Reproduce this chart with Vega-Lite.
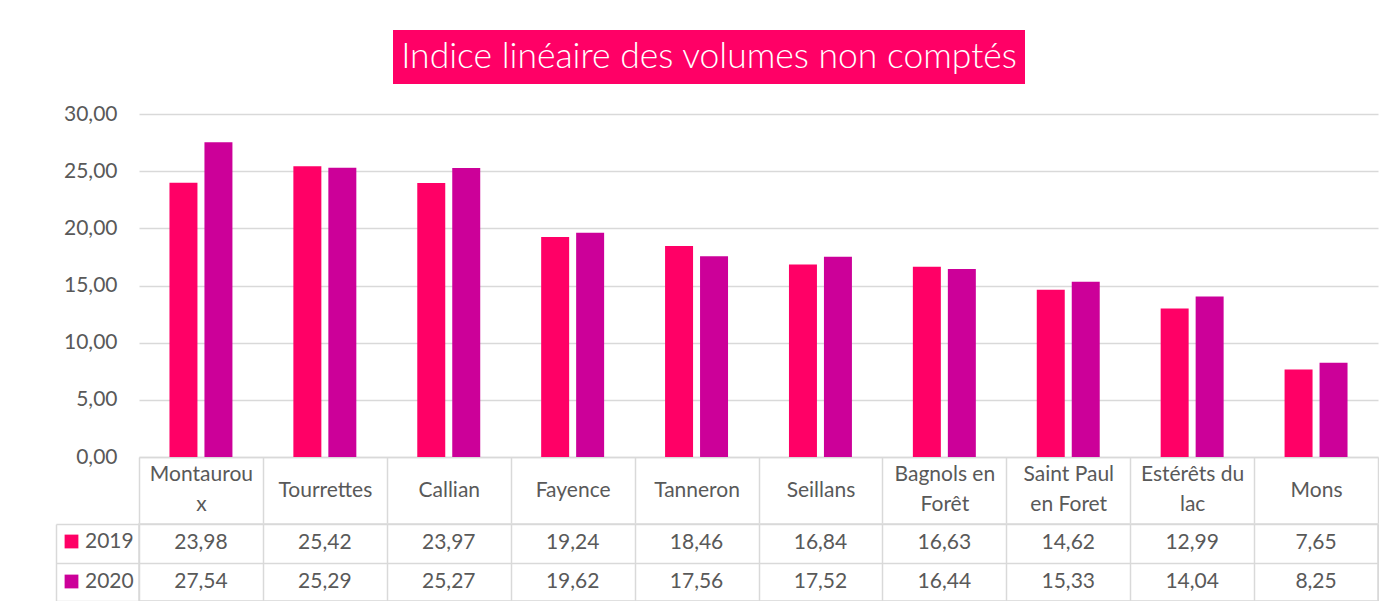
{
  "$schema": "https://vega.github.io/schema/vega-lite/v6.json",
  "padding": {"left": 54, "top": 30, "right": 0, "bottom": 0},
  "config": {
    "locale": {"number": {"decimal": ",", "thousands": " ", "grouping": [3], "currency": ["", " €"]}},
    "font": "Lato",
    "view": {"stroke": null}
  },
  "datasets": {
    "vals": [
      {"commune": "Montauroux", "year": "2019", "value": 23.98},
      {"commune": "Montauroux", "year": "2020", "value": 27.54},
      {"commune": "Tourrettes", "year": "2019", "value": 25.42},
      {"commune": "Tourrettes", "year": "2020", "value": 25.29},
      {"commune": "Callian", "year": "2019", "value": 23.97},
      {"commune": "Callian", "year": "2020", "value": 25.27},
      {"commune": "Fayence", "year": "2019", "value": 19.24},
      {"commune": "Fayence", "year": "2020", "value": 19.62},
      {"commune": "Tanneron", "year": "2019", "value": 18.46},
      {"commune": "Tanneron", "year": "2020", "value": 17.56},
      {"commune": "Seillans", "year": "2019", "value": 16.84},
      {"commune": "Seillans", "year": "2020", "value": 17.52},
      {"commune": "Bagnols en Forêt", "year": "2019", "value": 16.63},
      {"commune": "Bagnols en Forêt", "year": "2020", "value": 16.44},
      {"commune": "Saint Paul en Foret", "year": "2019", "value": 14.62},
      {"commune": "Saint Paul en Foret", "year": "2020", "value": 15.33},
      {"commune": "Estérêts du lac", "year": "2019", "value": 12.99},
      {"commune": "Estérêts du lac", "year": "2020", "value": 14.04},
      {"commune": "Mons", "year": "2019", "value": 7.65},
      {"commune": "Mons", "year": "2020", "value": 8.25}
    ],
    "titre": [{"t": "Indice linéaire des volumes non comptés"}]
  },
  "vconcat": [
    {
      "hconcat": [
        {"width": 254, "height": 54, "data": {"values": []}, "mark": "point"},
        {
          "width": 632,
          "height": 54,
          "data": {"name": "titre"},
          "layer": [
            {"mark": {"type": "rect", "color": "#FF0066"}, "encoding": {}},
            {"mark": {"type": "text", "color": "#FFFFFF", "fontSize": 35.5, "font": "Lato", "fontWeight": 300, "baseline": "middle", "align": "center"}, "encoding": {"text": {"field": "t"}}}
          ]
        }
      ],
      "spacing": 0
    },
    {
      "vconcat": [
        {
          "width": 1239,
          "height": 343,
          "data": {"name": "vals"},
          "mark": {"type": "bar"},
          "encoding": {
            "x": {
              "field": "commune", "type": "nominal", "sort": null,
              "scale": {"paddingInner": 0, "paddingOuter": 0},
              "axis": {
                "title": null, "orient": "bottom", "tickBand": "extent", "tickSize": 66, "tickColor": "#d9d9d9", "tickWidth": 1.5,
                "domain": true, "domainColor": "#d9d9d9", "domainWidth": 1.5,
                "labelAngle": 0, "labelBaseline": "middle", "labelFontSize": 21, "labelColor": "#595959",
                "labelPadding": {"condition": {"test": "indexof(['Montauroux', 'Bagnols en Forêt', 'Saint Paul en Foret', 'Estérêts du lac'], datum.value) >= 0", "value": -49}, "value": -33},
                "labelLineHeight": 30, "labelOverlap": false, "labelLimit": 0, "labelFlush": false,
                "labelExpr": "datum.value == 'Montauroux' ? ['Montaurou', 'x'] : datum.value == 'Bagnols en Forêt' ? ['Bagnols en', 'Forêt'] : datum.value == 'Saint Paul en Foret' ? ['Saint Paul', 'en Foret'] : datum.value == 'Estérêts du lac' ? ['Estérêts du', 'lac'] : datum.value"
              }
            },
            "xOffset": {"field": "year", "type": "nominal", "scale": {"paddingInner": 0.2, "paddingOuter": 0.871}},
            "y": {
              "field": "value", "type": "quantitative",
              "scale": {"domain": [0, 30], "nice": false},
              "axis": {
                "title": null, "values": [0, 5, 10, 15, 20, 25, 30], "format": ".2f",
                "domain": false, "ticks": false, "grid": true, "gridColor": "#d9d9d9", "gridWidth": 1.5,
                "labelFontSize": 21, "labelColor": "#595959", "labelPadding": 22
              }
            },
            "color": {
              "field": "year", "type": "nominal",
              "scale": {"domain": ["2019", "2020"], "range": ["#FF0066", "#CC0099"]},
              "legend": null
            }
          }
        },
        {
          "width": 1239,
          "height": 77,
          "data": {"name": "vals"},
          "view": {"stroke": "#d9d9d9", "strokeWidth": 1.5},
          "encoding": {
            "x": {
              "field": "commune", "type": "nominal", "sort": null,
              "scale": {"paddingInner": 0, "paddingOuter": 0},
              "axis": {"title": null, "labels": false, "ticks": false, "domain": false, "grid": true, "tickBand": "extent", "gridColor": "#d9d9d9", "gridWidth": 1.5}
            },
            "y": {
              "field": "year", "type": "nominal",
              "scale": {"paddingInner": 0, "paddingOuter": 0},
              "axis": {"title": null, "labels": false, "offset": 83, "ticks": true, "tickSize": -83, "tickColor": "#d9d9d9", "tickWidth": 1.5, "tickBand": "extent", "domain": true, "domainColor": "#d9d9d9", "domainWidth": 1.5, "grid": true, "gridColor": "#d9d9d9", "gridWidth": 1.5}
            }
          },
          "layer": [
            {
              "mark": {"type": "text", "fontSize": 21, "color": "#595959", "baseline": "middle"},
              "encoding": {
                "text": {"field": "value", "type": "quantitative", "format": ".2f"}
              }
            },
            {
              "mark": {"type": "square", "opacity": 0},
              "encoding": {
                "color": {
                  "field": "year", "type": "nominal",
                  "scale": {"domain": ["2019", "2020"], "range": ["#FF0066", "#CC0099"]},
                  "legend": {
                    "orient": "none", "legendX": -78, "legendY": 7, "title": null,
                    "symbolType": "square", "symbolSize": 190, "symbolStrokeWidth": 0, "symbolOpacity": 1,
                    "labelFontSize": 21, "labelColor": "#595959", "rowPadding": 18, "padding": 0, "labelOffset": 3
                  }
                }
              }
            }
          ]
        }
      ],
      "spacing": -4,
      "resolve": {"legend": {"color": "independent"}}
    }
  ],
  "spacing": 19
}
